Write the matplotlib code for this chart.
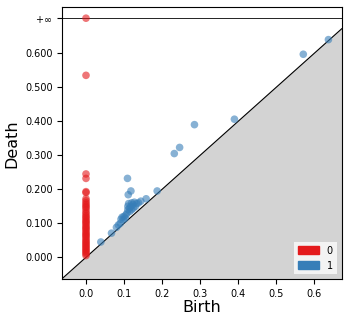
import numpy as np
import matplotlib
matplotlib.use('Agg')
import matplotlib.pyplot as plt
from matplotlib.patches import Patch

# H0 (birth always 0), last one never dies
h0_death = [0.005, 0.010, 0.014, 0.018, 0.022, 0.026, 0.030, 0.034, 0.038, 0.042,
            0.046, 0.050, 0.055, 0.060, 0.064, 0.068, 0.072, 0.077, 0.082, 0.086,
            0.090, 0.095, 0.100, 0.104, 0.108, 0.113, 0.118, 0.122, 0.128, 0.133,
            0.140, 0.146, 0.150, 0.155, 0.160, 0.166, 0.172, 0.190, 0.193, 0.232,
            0.245, 0.535, np.inf]

# H1 points
h1_birth = [0.039, 0.067, 0.080, 0.085, 0.090, 0.092, 0.095, 0.098, 0.100, 0.103,
            0.105, 0.108, 0.110, 0.110, 0.112, 0.115, 0.115, 0.118, 0.120, 0.120,
            0.123, 0.125, 0.127, 0.130, 0.133, 0.138, 0.144, 0.158, 0.109, 0.111,
            0.118, 0.187, 0.232, 0.246, 0.285, 0.390, 0.571, 0.637]
h1_death = [0.045, 0.071, 0.088, 0.095, 0.100, 0.112, 0.118, 0.110, 0.120, 0.115,
            0.125, 0.130, 0.140, 0.150, 0.158, 0.135, 0.145, 0.150, 0.140, 0.160,
            0.155, 0.145, 0.162, 0.150, 0.158, 0.160, 0.165, 0.172, 0.232, 0.184,
            0.195, 0.195, 0.305, 0.323, 0.390, 0.406, 0.597, 0.640]

x_down, x_up = -0.0623, 0.672
y_down, y_up = -0.0647, 0.735
b_inf = 0.703

fig = plt.figure(figsize=(3.48, 3.22), dpi=100)
ax = fig.add_axes([0.179, 0.1326, 0.803, 0.8447])

# diagonal + shaded area below it
diag = np.array([x_down, x_up])
ax.fill_between(diag, y_down, diag, color='lightgrey', zorder=0)
ax.plot(diag, diag, 'k-', lw=0.8, zorder=1)
ax.axhline(b_inf, color='k', lw=0.6, zorder=1)

d0 = np.array(h0_death)
d0 = np.where(np.isinf(d0), b_inf, d0)
ax.scatter(np.zeros(len(d0)), d0, s=30, color='#e41a1c', alpha=0.6,
           edgecolors='none', zorder=2)
ax.scatter(h1_birth, h1_death, s=30, color='#377eb8', alpha=0.6,
           edgecolors='none', zorder=2)

ax.set_xlim(x_down, x_up)
ax.set_ylim(y_down, y_up)

ax.set_xticks([0.0, 0.1, 0.2, 0.3, 0.4, 0.5, 0.6])
ax.set_xticklabels(['0.0', '0.1', '0.2', '0.3', '0.4', '0.5', '0.6'])
yt = [0.0, 0.1, 0.2, 0.3, 0.4, 0.5, 0.6]
ax.set_yticks(yt + [b_inf])
ax.set_yticklabels(['%.3f' % v for v in yt] + ['+$\\infty$'])
ax.tick_params(labelsize=7, length=3.5, width=0.8)

ax.set_xlabel('Birth', fontsize=11.5, labelpad=1)
ax.set_ylabel('Death', fontsize=11.5, labelpad=4)

handles = [Patch(color='#e41a1c'), Patch(color='#377eb8')]
ax.legend(handles, ['0', '1'], loc='lower right', fontsize=7,
          handlelength=2.2, handleheight=0.9, framealpha=0.75,
          edgecolor='none', fancybox=False)

fig.savefig('out.png', dpi=100)
